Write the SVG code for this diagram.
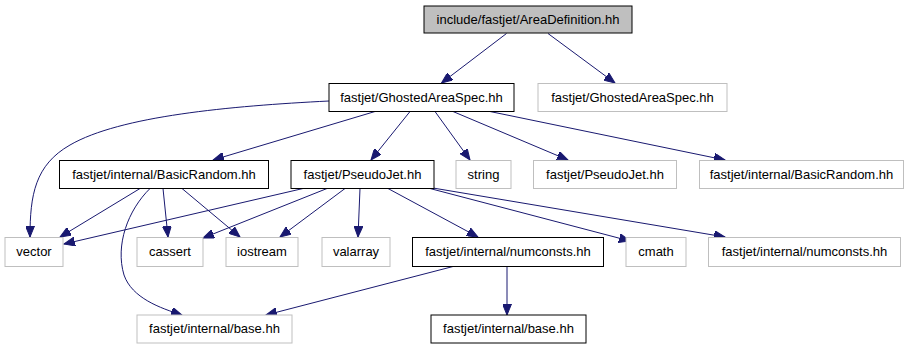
<svg xmlns="http://www.w3.org/2000/svg" width="913" height="349" viewBox="0 0 913 349">
<style>
text{font-family:"Liberation Sans",Arial,sans-serif;font-size:13px;text-anchor:middle;fill:#000}
.b rect{fill:#fff;stroke:#000;stroke-width:1}
.g rect{fill:#fff;stroke:#bfbfbf;stroke-width:1}
.r rect{fill:#bfbfbf;stroke:#000;stroke-width:1}
#edges path{fill:none;stroke:#191970;stroke-width:1;marker-end:url(#arr)}
</style>
<defs>
<marker id="arr" markerUnits="userSpaceOnUse" markerWidth="12" markerHeight="9" refX="11" refY="4.5" orient="auto">
<path d="M0,0 L11,4.5 L0,9 z" fill="#191970" stroke="#191970" stroke-width="1"/>
</marker>
</defs>
<rect width="913" height="349" fill="#fff"/>
<g id="edges">
<path d="M506.5,33.5 L441.5,83"/>
<path d="M548,33.5 L615,83"/>
<path d="M329,101 C230,106 120,116 70,145 C35,165 30,195 30,237"/>
<path d="M375,111.5 L213,160"/>
<path d="M410,111.5 L371,160"/>
<path d="M435,111.5 L470,160"/>
<path d="M453,111.5 L568,160"/>
<path d="M490,111.5 L725,160"/>
<path d="M140,188.5 L60,237"/>
<path d="M150,188.5 C128,210 115,245 124,275 C132,298 160,308 182,315"/>
<path d="M163,188.5 L168,237"/>
<path d="M182,188.5 L240,237"/>
<path d="M303,188.5 L64,244"/>
<path d="M327,188.5 L203,238"/>
<path d="M345,188.5 L280,237"/>
<path d="M360,188.5 L358,237"/>
<path d="M388,188.5 L478,237"/>
<path d="M430,188.5 L630,241"/>
<path d="M433,188 L725,237"/>
<path d="M453,266.5 L266,315"/>
<path d="M507,266.5 L507,315"/>
</g>
<g id="n_root" class="r"><rect x="424" y="6" width="208" height="27"/><text x="528" y="23.5">include/fastjet/AreaDefinition.hh</text></g>
<g id="n_gas" class="b"><rect x="329" y="83.5" width="185" height="28"/><text x="421.5" y="101.5">fastjet/GhostedAreaSpec.hh</text></g>
<g id="n_gas2" class="g"><rect x="538" y="83.5" width="189" height="28"/><text x="632.5" y="101.5">fastjet/GhostedAreaSpec.hh</text></g>
<g id="n_br" class="b"><rect x="59.5" y="160.5" width="209" height="28"/><text x="164" y="178.5">fastjet/internal/BasicRandom.hh</text></g>
<g id="n_pj" class="b"><rect x="291" y="160.5" width="143" height="28"/><text x="362.5" y="178.5">fastjet/PseudoJet.hh</text></g>
<g id="n_string" class="g"><rect x="456" y="160.5" width="55" height="28"/><text x="483.5" y="178.5">string</text></g>
<g id="n_pj2" class="g"><rect x="533.5" y="160.5" width="143" height="28"/><text x="605" y="178.5">fastjet/PseudoJet.hh</text></g>
<g id="n_br2" class="g"><rect x="699.5" y="160.5" width="204" height="28"/><text x="801.5" y="178.5">fastjet/internal/BasicRandom.hh</text></g>
<g id="n_vector" class="g"><rect x="5" y="237.5" width="58" height="29"/><text x="34" y="256">vector</text></g>
<g id="n_cassert" class="g"><rect x="137" y="237.5" width="66" height="29"/><text x="170" y="256">cassert</text></g>
<g id="n_iostream" class="g"><rect x="226" y="237.5" width="72" height="29"/><text x="262" y="256">iostream</text></g>
<g id="n_valarray" class="g"><rect x="322" y="237.5" width="68" height="29"/><text x="356" y="256">valarray</text></g>
<g id="n_nc" class="b"><rect x="412.5" y="237.5" width="191" height="29"/><text x="508" y="256">fastjet/internal/numconsts.hh</text></g>
<g id="n_cmath" class="g"><rect x="626" y="237.5" width="60" height="29"/><text x="656" y="256">cmath</text></g>
<g id="n_nc2" class="g"><rect x="708.5" y="237.5" width="192" height="29"/><text x="804.5" y="256">fastjet/internal/numconsts.hh</text></g>
<g id="n_base" class="g"><rect x="137" y="315" width="155" height="28"/><text x="214.5" y="333">fastjet/internal/base.hh</text></g>
<g id="n_base2" class="b"><rect x="431" y="315" width="155" height="28"/><text x="508.5" y="333">fastjet/internal/base.hh</text></g>
</svg>
